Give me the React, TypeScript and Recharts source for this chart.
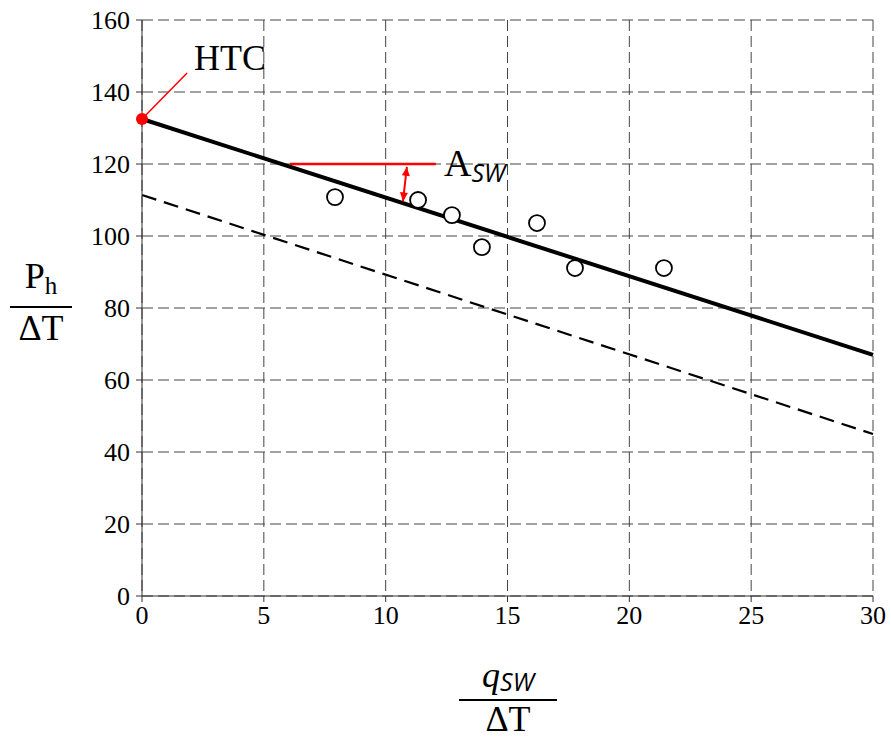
import { ComposedChart, Line, Scatter, XAxis, YAxis, CartesianGrid, ReferenceLine } from "recharts";

const xTicks = [0, 5, 10, 15, 20, 25, 30];
const yTicks = [0, 20, 40, 60, 80, 100, 120, 140, 160];

const fitLine = [
    { x: 0, y: 132.5 },
    { x: 30, y: 67 }
];
const lowerLine = [
    { x: 0, y: 111.4 },
    { x: 30, y: 45 }
];
const measured = [
    { x: 7.92, y: 110.8 },
    { x: 11.33, y: 110 },
    { x: 12.72, y: 105.8 },
    { x: 13.95, y: 96.9 },
    { x: 16.21, y: 103.6 },
    { x: 17.77, y: 91.1 },
    { x: 21.42, y: 91.1 }
];
const htcPoint = [{ x: 0, y: 132.5 }];
const htcLeader = [
    { x: 0, y: 132.5 },
    { x: 1.85, y: 145.3 }
];
const aswLine = [
    { x: 6.07, y: 120 },
    { x: 12.06, y: 120 }
];
const aswArrow = [
    { x: 10.87, y: 119.2 },
    { x: 10.71, y: 109.6 }
];

const serif = "'Liberation Serif', 'Times New Roman', serif";

const HollowDot = (props: any) => (
    <circle cx={props.cx} cy={props.cy} r={8} fill="#fff" stroke="#000" strokeWidth={1.8} />
);
const RedDot = (props: any) => <circle cx={props.cx} cy={props.cy} r={6} fill="#ff0000" />;

const DoubleArrow = (props: any) => {
    const { x1, y1, x2, y2 } = props;
    const ang = Math.atan2(y2 - y1, x2 - x1);
    const head = (x: number, y: number, a: number) => {
        const l = 9;
        const w = 4;
        const bx = x - l * Math.cos(a);
        const by = y - l * Math.sin(a);
        const px = -Math.sin(a) * w;
        const py = Math.cos(a) * w;
        return `${x},${y} ${bx + px},${by + py} ${bx - px},${by - py}`;
    };
    return (
        <g>
            <line x1={x1} y1={y1} x2={x2} y2={y2} stroke="#ff0000" strokeWidth={2} />
            <polygon points={head(x2, y2, ang)} fill="#ff0000" />
            <polygon points={head(x1, y1, ang + Math.PI)} fill="#ff0000" />
        </g>
    );
};

export default function App() {
    return (
        <div style={{ position: "relative", width: 891, height: 740, fontFamily: serif }}>
            <style>{`body{margin:0} svg text, svg tspan{font-family:${serif} !important;}`}</style>
            <ComposedChart width={891} height={740} margin={{ top: 20, right: 18, left: 82, bottom: 104 }} style={{ fontFamily: serif }}>
                <CartesianGrid stroke="#444" strokeDasharray="11 5" strokeWidth={1} />
                <XAxis
                    type="number"
                    dataKey="x"
                    domain={[0, 30]}
                    ticks={xTicks}
                    height={40}
                    stroke="#333"
                    tickSize={6}
                    tick={{ fill: "#000", fontSize: 26, fontFamily: serif }}
                    tickMargin={4}
                />
                <YAxis
                    type="number"
                    dataKey="y"
                    domain={[0, 160]}
                    ticks={yTicks}
                    width={60}
                    stroke="#333"
                    tickSize={6}
                    tick={{ fill: "#000", fontSize: 26, fontFamily: serif }}
                    tickMargin={6}
                />
                <Line data={lowerLine} dataKey="y" stroke="#000" strokeWidth={2.2} strokeDasharray="15 8" dot={false} isAnimationActive={false} />
                <Line data={fitLine} dataKey="y" stroke="#000" strokeWidth={4} dot={false} isAnimationActive={false} />
                <ReferenceLine segment={htcLeader} stroke="#ff0000" strokeWidth={1.5} ifOverflow="visible" />
                <ReferenceLine segment={aswLine} stroke="#ff0000" strokeWidth={2.5} ifOverflow="visible" />
                <ReferenceLine segment={aswArrow} ifOverflow="visible" shape={DoubleArrow} />
                <Scatter data={measured} shape={HollowDot} isAnimationActive={false} />
                <Scatter data={htcPoint} shape={RedDot} isAnimationActive={false} />
            </ComposedChart>

            <div style={{ position: "absolute", left: 194, top: 38, fontSize: 36, lineHeight: "40px" }}>HTC</div>
            <div style={{ position: "absolute", left: 444, top: 142, fontSize: 38, lineHeight: "42px", whiteSpace: "nowrap" }}>
                A<span style={{ fontFamily: "'Open Sans', sans-serif", fontStyle: "italic", fontSize: 25, position: "relative", top: 6 }}>SW</span>
            </div>

            <div style={{ position: "absolute", left: 10, top: 254, width: 62, textAlign: "center", fontSize: 36, lineHeight: "44px" }}>
                <div>
                    P<span style={{ fontSize: 25, position: "relative", top: 6 }}>h</span>
                </div>
                <div style={{ borderTop: "2px solid #000", marginTop: 4, lineHeight: "40px" }}>ΔT</div>
            </div>

            <div style={{ position: "absolute", left: 459, top: 655, width: 98, textAlign: "center", fontSize: 36, lineHeight: "40px" }}>
                <div style={{ fontStyle: "italic" }}>
                    q<span style={{ fontFamily: "'Open Sans', sans-serif", fontSize: 25, position: "relative", top: 4 }}>SW</span>
                </div>
                <div style={{ borderTop: "2px solid #000", marginTop: 2, lineHeight: "36px" }}>ΔT</div>
            </div>
        </div>
    );
}
